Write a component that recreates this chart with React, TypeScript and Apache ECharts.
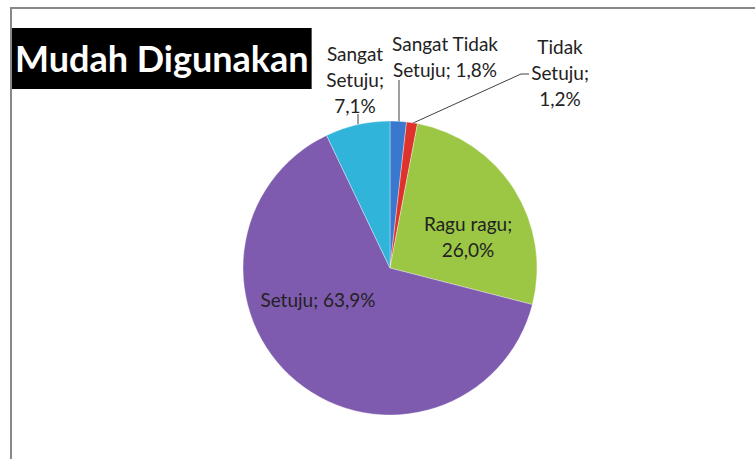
import React, { useEffect, useRef } from "react";
import * as echarts from "echarts";

const categories = ["Sangat Tidak Setuju", "Tidak Setuju", "Ragu ragu", "Setuju", "Sangat Setuju"];
const values = [1.8, 1.2, 26.0, 63.9, 7.1];
const labelNames = ["Sangat Tidak\nSetuju", "Tidak\nSetuju", "Ragu ragu", "Setuju", "Sangat\nSetuju"];
const labelSeparators = ["; ", ";\n", ";\n", "; ", ";\n"];
const colors = ["#3A78D0", "#E0322C", "#9BC744", "#7F5BAF", "#30B4DA"];
const labelCenters: [number, number][] = [
  [445, 56],
  [560, 72],
  [468, 236],
  [318, 299],
  [355, 79],
];
const leaderLines: (number[][] | null)[] = [
  [[399, 123], [399, 80]],
  [[411, 124], [521, 74], [529, 74]],
  null,
  null,
  [[358, 124], [358, 114]],
];
const titleText = "Mudah Digunakan";

export default function App() {
  const ref = useRef<HTMLDivElement>(null);
  useEffect(() => {
    if (!ref.current) return;
    const chart = echarts.init(ref.current, undefined, { renderer: "svg" });
    const font = "Lato, 'Open Sans', sans-serif";
    chart.setOption({
      animation: false,
      backgroundColor: "#ffffff",
      title: {
        text: titleText,
        left: 12,
        top: 28,
        padding: [12, 3, 13, 3],
        backgroundColor: "#000000",
        textStyle: {
          color: "#ffffff",
          fontFamily: font,
          fontWeight: "bold",
          fontSize: 36,
          lineHeight: 36,
        },
      },
      graphic: [
        {
          type: "rect",
          shape: { x: 11, y: 8, width: 900, height: 600 },
          style: { fill: "none", stroke: "#888888", lineWidth: 2 },
          silent: true,
          z: -1,
        },
      ],
      series: [
        {
          type: "pie",
          center: [390, 268],
          radius: 147,
          startAngle: 90,
          clockwise: true,
          avoidLabelOverlap: false,
          itemStyle: {
            borderColor: "rgba(255,255,255,0.35)",
            borderWidth: 1,
          },
          label: {
            show: true,
            position: "outside",
            fontFamily: font,
            fontSize: 19,
            lineHeight: 26,
            color: "#222222",
            align: "center",
            formatter: (p: any) =>
              labelNames[p.dataIndex] +
              labelSeparators[p.dataIndex] +
              values[p.dataIndex].toFixed(1).replace(".", ",") +
              "%",
          },
          labelLine: {
            show: true,
            length: 10,
            length2: 8,
            lineStyle: { color: "#404040", width: 1 },
          },
          labelLayout: (p: any) => {
            const c = labelCenters[p.dataIndex];
            const out: any = {
              x: c[0],
              y: c[1],
              align: "center",
              verticalAlign: "middle",
            };
            const pts = leaderLines[p.dataIndex];
            if (pts) out.labelLinePoints = pts;
            return out;
          },
          data: categories.map((name, i) => ({
            name,
            value: values[i],
            itemStyle: { color: colors[i] },
            labelLine: { show: leaderLines[i] !== null },
          })),
        },
      ],
    });
    return () => chart.dispose();
  }, []);
  return (
    <div
      ref={ref}
      style={{ position: "absolute", left: 0, top: 0, width: 755, height: 459 }}
    />
  );
}
